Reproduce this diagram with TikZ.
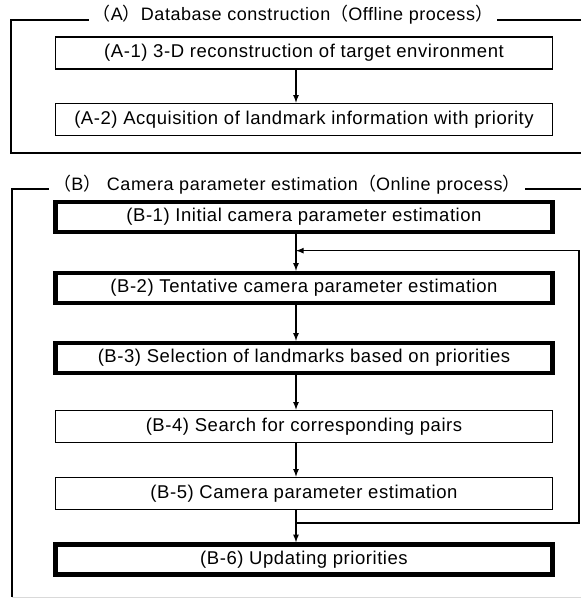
\documentclass[tikz,border=0pt]{standalone}
\usepackage{fontspec}
\setmainfont{Liberation Sans}[LetterSpace=3]
\newfontfamily\cjk{Noto Sans CJK JP}
\usetikzlibrary{arrows,calc}

\newcommand{\lpar}{{\cjk （}}
\newcommand{\rpar}{{\cjk ）}}

\begin{document}
\begin{tikzpicture}[x=1pt,y=-1pt,
    box/.style={draw,rectangle,line width=1.6pt,minimum width=497pt,minimum height=32pt,inner sep=0pt,font=\fontsize{18.5}{20}\selectfont},
    boldbox/.style={box,line width=4.4pt,minimum height=30pt},
    title/.style={fill=white,inner xsep=4pt,inner ysep=1pt,anchor=base,font=\fontsize{18}{20}\selectfont},
    frame/.style={line width=1.6pt},
    arr/.style={-latex,line width=1.6pt}]
    \useasboundingbox (0,0) rectangle (581,599);

    % frames
    \draw[frame] (581,20) -- (11,20) -- (11,153) -- (581,153);
    \draw[frame] (581,189) -- (12,189) -- (12,597);
    \draw[gray!30] (12,597) -- (581,597);
    \node[title] (ta) at (293,21) {\lpar A\rpar Database construction\lpar Offline process\rpar};
    \node[title] (tb) at (287,190) {\lpar B\rpar\ Camera parameter estimation\lpar Online process\rpar};

    % (A) offline
    \node[box] (a1) at (304,53) {(A-1) 3-D reconstruction of target environment};
    \node[box] (a2) at (304,119.5) {(A-2) Acquisition of landmark information with priority};
    \draw[arr] ([xshift=-8pt]a1.south) -- ([xshift=-8pt]a2.north);

    % (B) online
    \node[boldbox] (b1) at (304,217) {(B-1) Initial camera parameter estimation};
    \node[boldbox] (b2) at (304,288) {(B-2) Tentative camera parameter estimation};
    \node[boldbox] (b3) at (304,358) {(B-3) Selection of landmarks based on priorities};
    \node[box] (b4) at (304,426.5) {(B-4) Search for corresponding pairs};
    \node[box] (b5) at (304,493.5) {(B-5) Camera parameter estimation};
    \node[boldbox] (b6) at (304,559.5) {(B-6) Updating priorities};

    \draw[arr] ([xshift=-8pt]b1.south) -- ([xshift=-8pt]b2.north);
    \draw[arr] ([xshift=-8pt]b2.south) -- ([xshift=-8pt]b3.north);
    \draw[arr] ([xshift=-8pt]b3.south) -- ([xshift=-8pt]b4.north);
    \draw[arr] ([xshift=-8pt]b4.south) -- ([xshift=-8pt]b5.north);
    \draw[arr] ([xshift=-8pt]b5.south) -- ([xshift=-8pt]b6.north);

    % feedback loop
    \coordinate (out) at ($(b5.south)!0.4!(b6.north)+(-8,0)$);
    \coordinate (in) at ($(b1.south)!0.45!(b2.north)+(-8,0)$);
    \coordinate (loop) at (579,0);
    \draw[arr] (out) -- (out -| loop) -- (in -| loop) -- (in);
\end{tikzpicture}
\end{document}
